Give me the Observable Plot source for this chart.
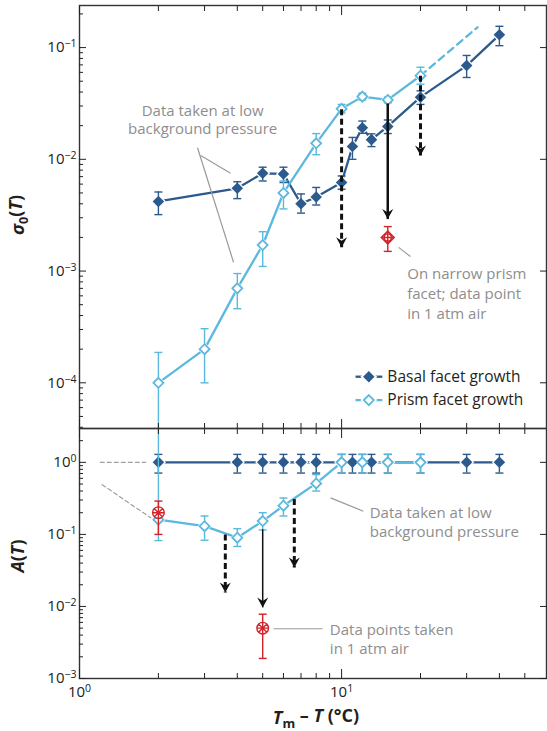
<!DOCTYPE html>
<html><head><meta charset="utf-8">
<script src="https://cdn.jsdelivr.net/npm/d3@7"></script>
<script src="https://cdn.jsdelivr.net/npm/@observablehq/plot@0.6"></script>
<style>
body{margin:0;background:#fff;font-family:"Open Sans",sans-serif;}
#chart{position:relative;width:547px;height:731px;}
#chart svg{display:block;overflow:visible;}
</style></head><body><div id="chart"></div>
<script>
// ---- Data: sigma0(T) panel ----
const basalT        = [2, 4, 5, 6, 7, 8, 10, 11, 12, 13, 15, 20, 30, 40];
const basalSigma    = [0.0042, 0.0055, 0.0075, 0.0074, 0.0040, 0.0046, 0.0062, 0.013, 0.0192, 0.015, 0.0197, 0.036, 0.069, 0.13];
const basalSigmaLo  = [0.0032, 0.00445, 0.0064, 0.0062, 0.0033, 0.0039, 0.0054, 0.0100, 0.0171, 0.013, 0.017, 0.031, 0.054, 0.104];
const basalSigmaHi  = [0.0051, 0.0063, 0.0085, 0.0085, 0.0049, 0.0056, 0.0071, 0.0157, 0.022, 0.0169, 0.0225, 0.041, 0.085, 0.155];

const prismT        = [2, 3, 4, 5, 6, 8, 10, 12, 15, 20];
const prismSigma    = [1.0e-4, 2.0e-4, 7.0e-4, 1.71e-3, 5.0e-3, 0.0139, 0.0283, 0.0364, 0.034, 0.056];
const prismSigmaLo  = [1e-7, 1.0e-4, 4.6e-4, 1.1e-3, 3.6e-3, 0.011, 0.026, 0.034, 0.032, 0.047];
const prismSigmaHi  = [1.87e-4, 3.05e-4, 9.5e-4, 2.25e-3, 6.4e-3, 0.017, 0.031, 0.039, 0.036, 0.0667];
const prismExtT     = [20, 33];
const prismExtSigma = [0.056, 0.152];

const airSigmaT = [15], airSigma = [2.0e-3], airSigmaLo = [1.5e-3], airSigmaHi = [2.5e-3];

// ---- Data: A(T) panel ----
const basalA   = [1, 1, 1, 1, 1, 1, 1, 1, 1, 1, 1, 1, 1, 1];
const basalALo = basalT.map(() => 0.71);
const basalAHi = basalT.map(() => 1.29);
const prismA   = [0.16, 0.13, 0.09, 0.153, 0.25, 0.51, 1, 1, 1, 1];
const prismALo = [0.082, 0.083, 0.068, 0.115, 0.18, 0.40, 0.71, 0.71, 0.71, 0.71];
const prismAHi = [10, 0.18, 0.12, 0.20, 0.32, 0.675, 1.29, 1.29, 1.29, 1.29];
const airAT = [2, 5], airA = [0.2, 0.005], airALo = [0.1, 0.0019], airAHi = [0.29, 0.0078];

// extrapolation (grey dashed) in A panel
const extrap1T = [1.2, 1.79], extrap1A = [1, 1];
const extrap2T = [1.22, 1.87], extrap2A = [0.49, 0.17];

// arrows
const topArrowT = [10, 15, 20], topArrowFrom = [0.028, 0.0316, 0.056], topArrowTo = [1.63e-3, 2.92e-3, 0.0108], topArrowDashed = [true, false, true];
const botArrowT = [3.6, 5, 6.6], botArrowFrom = [0.1, 0.118, 0.31], botArrowTo = [0.0156, 0.0097, 0.0346], botArrowDashed = [true, false, true];

// ticks
const xMajor = [1, 10];
const xMinor = [2,3,4,5,6,7,8,9,20,30,40,50];
const topYMajor = [1e-4, 1e-3, 1e-2, 1e-1];
const botYMajor = [1e-3, 1e-2, 1e-1, 1];
function minors(lo, hi){ const out=[]; for(let e=-6;e<=1;e++) for(let k=2;k<=9;k++){const v=k*Math.pow(10,e); if(v>lo&&v<hi) out.push(v);} return out; }

// colours
const cBasal = "#2c5a8c", cPrism = "#5bb8de", cRed = "#d2232a", cGrey = "#8e8e8e", cInk = "#231f20";

const rows = (xs, ys, lo, hi) => xs.map((x, i) => ({x, y: ys[i], lo: lo ? lo[i] : null, hi: hi ? hi[i] : null}));
const arrows = (xs, a, b, d) => xs.map((x, i) => ({x, y1: a[i], y2: b[i], dashed: d[i]}));

const capSym = {draw(c){ c.moveTo(-4,0); c.lineTo(4,0); }};
const headSym = {draw(c){ c.moveTo(0,0); c.lineTo(-5.5,-10); c.lineTo(0,-6.5); c.lineTo(5.5,-10); c.closePath(); }};
const airDiamondSym = {draw(c){ const h=6.5; c.moveTo(0,-h); c.lineTo(h,0); c.lineTo(0,h); c.lineTo(-h,0); c.closePath();
  c.moveTo(3.6,0); c.arc(0,0,3.6,0,2*Math.PI); c.moveTo(-h,0); c.lineTo(h,0); c.moveTo(0,-h); c.lineTo(0,h); }};
const airCircleSym = {draw(c){ const r=5.8; c.moveTo(r,0); c.arc(0,0,r,0,2*Math.PI);
  c.moveTo(-r,0); c.lineTo(r,0); c.moveTo(0,-r); c.lineTo(0,r); const q=r*0.72; c.moveTo(-q,-q); c.lineTo(q,q); c.moveTo(-q,q); c.lineTo(q,-q); }};

const W = 547, ML = 79, MR = 1;
const xScale = {type: "log", domain: [1, 60.5], axis: null, label: null};

function seriesMarks(basal, prism, air, airSym, extra) {
  return [
    Plot.line(basal, {x: "x", y: "y", stroke: cBasal, strokeWidth: 2.3, clip: true}),
    Plot.line(prism, {x: "x", y: "y", stroke: cPrism, strokeWidth: 2.3, clip: true}),
    ...extra,
    Plot.dot(basal, {x: "x", y: "y", symbol: "diamond2", r: 6.8, fill: "white", clip: true}),
    Plot.dot(prism, {x: "x", y: "y", symbol: "diamond2", r: 6.3, fill: "white", clip: true}),
    Plot.ruleX(basal, {x: "x", y1: "lo", y2: "hi", stroke: cBasal, strokeWidth: 1.4, clip: true}),
    Plot.dot(basal, {x: "x", y: "lo", symbol: capSym, stroke: cBasal, strokeWidth: 1.4, clip: true}),
    Plot.dot(basal, {x: "x", y: "hi", symbol: capSym, stroke: cBasal, strokeWidth: 1.4, clip: true}),
    Plot.dot(basal, {x: "x", y: "y", symbol: "diamond2", r: 5.2, fill: cBasal, clip: true}),
    Plot.ruleX(prism, {x: "x", y1: "lo", y2: "hi", stroke: cPrism, strokeWidth: 1.4, clip: true}),
    Plot.dot(prism, {x: "x", y: "lo", symbol: capSym, stroke: cPrism, strokeWidth: 1.4, clip: true}),
    Plot.dot(prism, {x: "x", y: "hi", symbol: capSym, stroke: cPrism, strokeWidth: 1.4, clip: true}),
    Plot.dot(prism, {x: "x", y: "y", symbol: "diamond2", r: 4.5, fill: "white", stroke: cPrism, strokeWidth: 1.8, clip: true}),
    Plot.ruleX(air, {x: "x", y1: "lo", y2: "hi", stroke: cRed, strokeWidth: 1.4}),
    Plot.dot(air, {x: "x", y: "lo", symbol: capSym, stroke: cRed, strokeWidth: 1.4}),
    Plot.dot(air, {x: "x", y: "hi", symbol: capSym, stroke: cRed, strokeWidth: 1.4}),
    Plot.dot(air, {x: "x", y: "y", symbol: airSym, fill: "white", stroke: cRed, strokeWidth: 1.4})
  ];
}
function arrowMarks(arr, solidWidth) {
  const dashed = arr.filter(d => d.dashed), solid = arr.filter(d => !d.dashed);
  return [
    Plot.link(dashed, {x1: "x", x2: "x", y1: "y1", y2: "y2", stroke: "#111", strokeWidth: 3, strokeDasharray: "6,3.5"}),
    Plot.link(solid, {x1: "x", x2: "x", y1: "y1", y2: "y2", stroke: "#111", strokeWidth: solidWidth}),
    Plot.dot(arr, {x: "x", y: "y2", symbol: headSym, fill: "#111"})
  ];
}
function frameAxes(yMajor, yMinor, fmtLeft, withXLabels) {
  const blank = () => "";
  return [
    Plot.frame({stroke: "#333", strokeWidth: 1.4}),
    Plot.axisY({ticks: yMajor, tickSize: -7, tickPadding: 10, tickFormat: fmtLeft, fontSize: 15, label: null}),
    Plot.axisY({ticks: yMinor, tickSize: -4, tickFormat: blank, label: null}),
    Plot.axisY({anchor: "right", ticks: yMajor, tickSize: -7, tickFormat: blank, label: null}),
    Plot.axisX({anchor: "top", ticks: xMajor, tickSize: -9, tickFormat: blank, label: null}),
    Plot.axisX({anchor: "top", ticks: xMinor, tickSize: -5, tickFormat: blank, label: null}),
    Plot.axisX({anchor: "bottom", ticks: xMajor, tickSize: -9, tickPadding: 17, tickFormat: withXLabels ? fmtLeft : blank, fontSize: 15, label: null}),
    Plot.axisX({anchor: "bottom", ticks: xMinor, tickSize: -5, tickFormat: blank, label: null})
  ];
}
const fmtPow = d => "10^" + String(Math.round(Math.log10(d))).replace("-", "\u2212");

function superscripts(svg) {
  d3.select(svg).selectAll("text").each(function () {
    const m = /^10\^(.+)$/.exec(this.textContent);
    if (m) {
      const t = d3.select(this); t.text("10");
      t.append("tspan").attr("dy", "-0.48em").attr("font-size", "0.7em").text(m[1]);
    }
  });
}

// ---- Top panel ----
const topTop = [3.9e-5, 0.238];
const topSvg = Plot.plot({
  width: W, height: 428, marginLeft: ML, marginRight: MR, marginTop: 5, marginBottom: 0,
  style: {fontFamily: "Open Sans", fontSize: "15px", color: "#222", background: "transparent"},
  x: xScale,
  y: {type: "log", domain: topTop, axis: null, label: null},
  marks: [
    ...seriesMarks(rows(basalT, basalSigma, basalSigmaLo, basalSigmaHi), rows(prismT, prismSigma, prismSigmaLo, prismSigmaHi),
                   rows(airSigmaT, airSigma, airSigmaLo, airSigmaHi), airDiamondSym,
                   [Plot.line(rows(prismExtT, prismExtSigma), {x: "x", y: "y", stroke: cPrism, strokeWidth: 2.3, strokeDasharray: "7,5"})]),
    ...arrowMarks(arrows(topArrowT, topArrowFrom, topArrowTo, topArrowDashed), 2.5),
    // annotations
    Plot.link([{x1: 2.9, y1: 0.0108, x2: 3.77, y2: 0.0075}, {x1: 2.82, y1: 0.0127, x2: 3.87, y2: 0.0012}, {x1: 16.5, y1: 1.63e-3, x2: 18.3, y2: 1.35e-3}],
      {x1: "x1", y1: "y1", x2: "x2", y2: "y2", stroke: "#9a9a9a", strokeWidth: 1.2}),
    Plot.text([{x: 2.95, y: 0.0229, t: "Data taken at low\nbackground pressure"}], {x: "x", y: "y", text: "t", fill: cGrey, fontSize: 15, lineHeight: 1.24, textAnchor: "middle"}),
    Plot.text([{x: 17.8, y: 6.44e-4, t: "On narrow prism\nfacet; data point\nin 1 atm air"}], {x: "x", y: "y", text: "t", fill: cGrey, fontSize: 15, lineHeight: 1.32, textAnchor: "start"}),
    // legend
    Plot.link([{x1: 11.3, x2: 14.3, y: 1.134e-4, c: cBasal}, {x1: 11.3, x2: 14.3, y: 7.0e-5, c: cPrism}], {x1: "x1", x2: "x2", y1: "y", y2: "y", stroke: "c", strokeWidth: 2.3}),
    Plot.dot([{x: 12.7, y: 1.134e-4}, {x: 12.7, y: 7.0e-5}], {x: "x", y: "y", symbol: "diamond2", r: 7.6, fill: "white"}),
    Plot.dot([{x: 12.7, y: 1.134e-4}], {x: "x", y: "y", symbol: "diamond2", r: 5.2, fill: cBasal}),
    Plot.dot([{x: 12.7, y: 7.0e-5}], {x: "x", y: "y", symbol: "diamond2", r: 4.5, fill: "white", stroke: cPrism, strokeWidth: 1.8}),
    Plot.text([{x: 14.95, y: 1.134e-4, t: "Basal facet growth"}, {x: 14.95, y: 7.0e-5, t: "Prism facet growth"}], {x: "x", y: "y", text: "t", fill: cInk, fontSize: 15.5, textAnchor: "start"}),
    ...frameAxes(topYMajor, minors(...topTop), fmtPow, false)
  ]
});

// ---- Bottom panel ----
const botDom = [1e-3, 2.95];
const botSvg = Plot.plot({
  width: W, height: 303, marginLeft: ML, marginRight: MR, marginTop: 0, marginBottom: 53,
  style: {fontFamily: "Open Sans", fontSize: "15px", color: "#222", background: "transparent"},
  x: xScale,
  y: {type: "log", domain: botDom, axis: null, label: null},
  marks: [
    Plot.line(rows(extrap1T, extrap1A), {x: "x", y: "y", stroke: "#a0a0a0", strokeWidth: 1.2, strokeDasharray: "4,3"}),
    Plot.line(rows(extrap2T, extrap2A), {x: "x", y: "y", stroke: "#a0a0a0", strokeWidth: 1.2, strokeDasharray: "4,3"}),
    ...seriesMarks(rows(basalT, basalA, basalALo, basalAHi), rows(prismT, prismA, prismALo, prismAHi),
                   rows(airAT, airA, airALo, airAHi), airCircleSym, []),
    ...arrowMarks(arrows(botArrowT, botArrowFrom, botArrowTo, botArrowDashed), 1.5),
    Plot.link([{x1: 9.08, y1: 0.321, x2: 12.1, y2: 0.21}, {x1: 5.5, y1: 4.9e-3, x2: 8.46, y2: 4.9e-3}],
      {x1: "x1", y1: "y1", x2: "x2", y2: "y2", stroke: "#9a9a9a", strokeWidth: 1.2}),
    Plot.text([{x: 12.8, y: 0.151, t: "Data taken at low\nbackground pressure"}], {x: "x", y: "y", text: "t", fill: cGrey, fontSize: 15, lineHeight: 1.29, textAnchor: "start"}),
    Plot.text([{x: 9.02, y: 3.59e-3, t: "Data points taken\nin 1 atm air"}], {x: "x", y: "y", text: "t", fill: cGrey, fontSize: 15, lineHeight: 1.27, textAnchor: "start"}),
    ...frameAxes(botYMajor, minors(...botDom), fmtPow, true)
  ]
});

superscripts(topSvg); superscripts(botSvg);

// axis titles
function yTitle(svg, x, y, parts) {
  const t = d3.select(svg).append("text").attr("transform", `translate(${x},${y}) rotate(-90)`)
    .attr("text-anchor", "middle").attr("font-size", 18).attr("font-weight", "bold").attr("fill", cInk);
  parts.forEach(p => { const s = t.append("tspan").text(p.t); if (p.i) s.attr("font-style", "italic"); if (p.sub) s.attr("font-size", "0.7em").attr("dy", "0.3em"); if (p.up) s.attr("dy", "-0.3em"); });
}
yTitle(topSvg, 24, 215, [{t: "σ", i: true}, {t: "0", sub: true}, {t: "(", up: true}, {t: "T", i: true}, {t: ")"}]);
yTitle(botSvg, 24, 128, [{t: "A", i: true}, {t: "("}, {t: "T", i: true}, {t: ")"}]);
{
  const t = d3.select(botSvg).append("text").attr("x", 316).attr("y", 296).attr("text-anchor", "middle")
    .attr("font-size", 18).attr("font-weight", "bold").attr("fill", cInk);
  t.append("tspan").attr("font-style", "italic").text("T");
  t.append("tspan").attr("font-size", "0.72em").attr("dy", "0.3em").text("m");
  t.append("tspan").attr("dy", "-0.3em").text(" – ");
  t.append("tspan").attr("font-style", "italic").text("T");
  t.append("tspan").text(" (°C)");
}

const chart = document.getElementById("chart");
chart.append(topSvg, botSvg);
</script></body></html>
